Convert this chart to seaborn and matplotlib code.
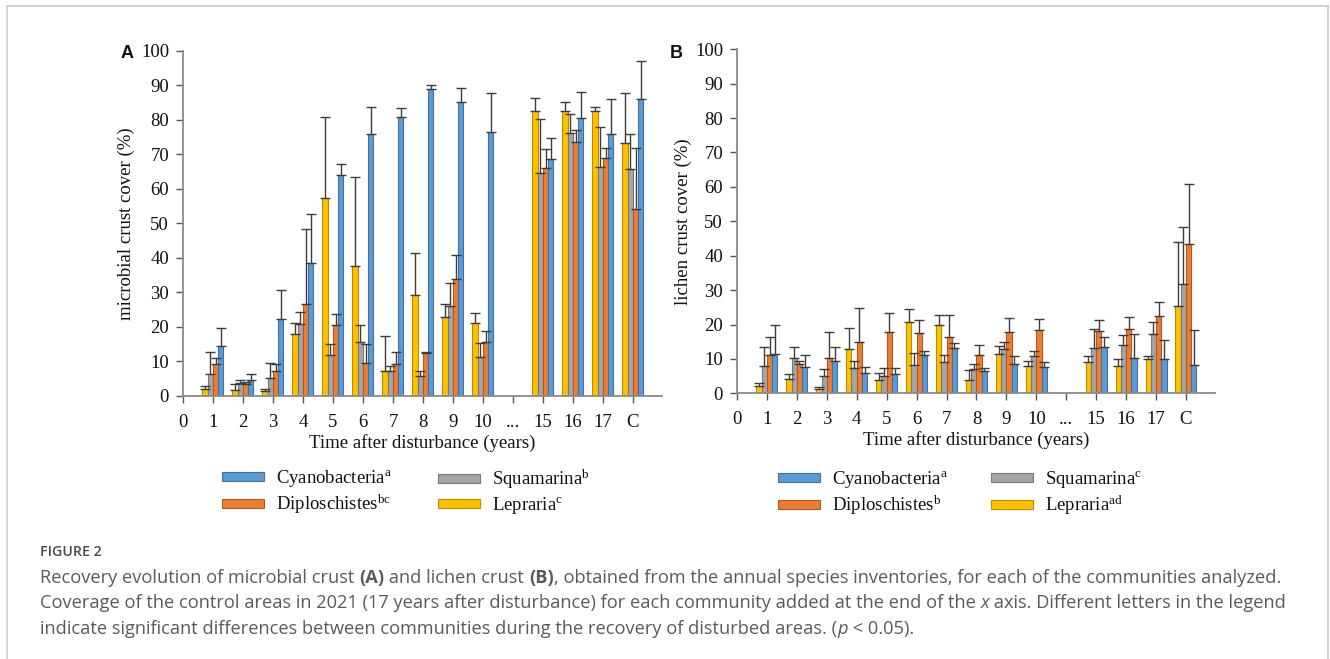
import numpy as np
import pandas as pd
import matplotlib
matplotlib.use("Agg")
import matplotlib.pyplot as plt
from matplotlib.patches import Patch
from matplotlib.lines import Line2D
import seaborn as sns

# ---------------- data ----------------
tick_labels = ["0", "1", "2", "3", "4", "5", "6", "7", "8", "9", "10", "...", "15", "16", "17", "C"]
years = ["1", "2", "3", "4", "5", "6", "7", "8", "9", "10", "15", "16", "17", "C"]
taxa = ["Lepraria", "Squamarina", "Diploschistes", "Cyanobacteria"]

# Panel A: microbial crust cover (%) and upper error
a_lep = [2.0, 1.7, 1.5, 18.1, 57.2, 37.7, 7.3, 29.2, 23.0, 21.0, 82.6, 82.4, 82.4, 73.2]
a_lep_err = [1.0, 1.7, 0.6, 3.1, 23.5, 25.8, 10.2, 12.3, 3.7, 3.1, 3.7, 2.8, 1.4, 14.6]
a_squ = [6.5, 3.9, 5.3, 20.8, 11.8, 15.5, 7.3, 5.8, 26.2, 11.4, 64.5, 76.1, 66.3, 65.6]
a_squ_err = [6.2, 0.7, 4.3, 3.6, 3.4, 5.1, 1.5, 1.3, 6.4, 4.0, 15.8, 5.6, 11.7, 10.2]
a_dip = [9.2, 3.5, 7.1, 26.5, 20.5, 9.7, 9.3, 12.4, 33.8, 15.6, 66.1, 73.5, 68.8, 54.3]
a_dip_err = [1.8, 0.6, 2.1, 21.8, 3.3, 5.5, 3.4, 0.3, 7.0, 3.1, 5.3, 3.5, 2.9, 17.4]
a_cya = [14.5, 4.6, 22.2, 38.6, 63.9, 75.8, 80.9, 89.0, 85.2, 76.4, 68.5, 80.4, 75.8, 85.9]
a_cya_err = [5.3, 1.8, 8.5, 14.1, 3.4, 8.0, 2.5, 1.0, 4.1, 11.4, 6.3, 7.6, 10.1, 11.0]

# Panel B: lichen crust cover (%) and upper error
b_lep = [2.1, 4.3, 1.3, 12.8, 3.8, 20.7, 19.9, 3.9, 11.4, 7.9, 9.1, 7.9, 9.9, 25.4]
b_lep_err = [0.8, 1.3, 0.4, 6.3, 2.0, 3.7, 2.8, 2.9, 2.4, 1.6, 1.8, 2.2, 1.0, 18.5]
b_squ = [7.9, 10.2, 5.0, 7.4, 5.0, 8.2, 9.1, 7.0, 12.8, 10.9, 13.1, 14.1, 17.2, 31.8]
b_squ_err = [5.5, 3.2, 2.0, 1.9, 2.4, 3.4, 2.0, 1.4, 2.2, 1.3, 5.5, 2.8, 3.6, 16.6]
b_dip = [11.2, 8.4, 10.2, 14.8, 17.9, 17.6, 16.4, 11.1, 17.7, 18.3, 18.2, 18.8, 22.5, 43.4]
b_dip_err = [5.3, 1.1, 7.7, 10.0, 5.5, 3.7, 6.5, 2.9, 4.1, 3.2, 3.1, 3.5, 4.0, 17.5]
b_cya = [11.4, 7.6, 9.4, 5.8, 5.5, 11.0, 13.2, 6.5, 8.5, 7.7, 13.4, 10.3, 9.9, 8.2]
b_cya_err = [8.6, 3.4, 4.2, 1.8, 1.9, 1.4, 1.5, 0.8, 2.4, 1.4, 2.9, 6.9, 5.6, 10.3]

legend_a = {"Cyanobacteria": "a", "Squamarina": "b", "Diploschistes": "bc", "Lepraria": "c"}
legend_b = {"Cyanobacteria": "a", "Squamarina": "c", "Diploschistes": "b", "Lepraria": "ad"}

# ---------------- style ----------------
sns.set_theme(style="white")
plt.rcParams["font.family"] = ["Liberation Serif", "DejaVu Serif"]
plt.rcParams["mathtext.fontset"] = "custom"
plt.rcParams["mathtext.rm"] = "Liberation Serif"
plt.rcParams["mathtext.it"] = "Liberation Serif:italic"

palette = {"Cyanobacteria": "#5B9BD5", "Diploschistes": "#ED7D31",
           "Squamarina": "#A5A5A5", "Lepraria": "#FFC000"}
edges = {"Cyanobacteria": "#41719C", "Diploschistes": "#AE5A21",
         "Squamarina": "#787878", "Lepraria": "#BC8C00"}
axis_col = "#8a8a8a"
fs = 13.5

W, H = 1330, 659
fig = plt.figure(figsize=(W / 100, H / 100), dpi=100)


def fx(px):
    return px / W


def fy(py):
    return 1 - py / H


def panel(rect, vals, errs, ylabel, letter, letter_xy, ylab_x, xlab_y):
    ax = fig.add_axes(rect)
    rows = []
    for t in taxa:
        for y, v in zip(years, vals[t]):
            rows.append({"year": y, "cover": v, "taxon": t})
    df = pd.DataFrame(rows)
    sns.barplot(data=df, x="year", y="cover", hue="taxon", order=tick_labels,
                hue_order=taxa, palette=palette, width=0.7, errorbar=None,
                saturation=1, legend=False, ax=ax, zorder=2)
    for t, cont in zip(taxa, ax.containers):
        for bar in cont:
            h = bar.get_height()
            if not np.isfinite(h):
                continue
            bar.set_edgecolor(edges[t])
            bar.set_linewidth(0.8)
            xc = bar.get_x() + bar.get_width() / 2
            lab = tick_labels[int(round(xc))]
            e = errs[t][years.index(lab)]
            ax.errorbar(xc, h, yerr=[[0], [e]], fmt="none", ecolor="#3c3c3c",
                        elinewidth=1.0, capsize=3.6, capthick=1.0, zorder=3)
    ax.set_xlim(0, 15.97)
    ax.set_ylim(0, 100)
    ax.set_yticks(np.arange(0, 101, 10))
    ax.set_xticks(range(len(tick_labels)))
    ax.set_xticklabels(tick_labels)
    for s in ["top", "right"]:
        ax.spines[s].set_visible(False)
    for s in ["left", "bottom"]:
        ax.spines[s].set_color(axis_col)
        ax.spines[s].set_linewidth(1.3)
    ax.tick_params(axis="both", which="both", direction="out", length=5, width=1,
                   color="#555555", labelsize=fs, labelcolor="#111111", bottom=True, left=True)
    ax.tick_params(axis="x", pad=8)
    ax.tick_params(axis="y", pad=5)
    ax.set_ylabel(ylabel, fontsize=fs, color="#111111")
    ax.yaxis.set_label_coords(ylab_x, 0.5)
    ax.set_xlabel("Time after disturbance (years)", fontsize=fs, color="#111111")
    ax.xaxis.set_label_coords(0.5, xlab_y)
    ax.grid(False)
    fig.text(fx(letter_xy[0]), fy(letter_xy[1]), letter, family="Liberation Sans",
             fontweight="bold", fontsize=13, ha="center", va="center", color="#111111")
    return ax


vals_a = {"Lepraria": a_lep, "Squamarina": a_squ, "Diploschistes": a_dip, "Cyanobacteria": a_cya}
errs_a = {"Lepraria": a_lep_err, "Squamarina": a_squ_err, "Diploschistes": a_dip_err, "Cyanobacteria": a_cya_err}
vals_b = {"Lepraria": b_lep, "Squamarina": b_squ, "Diploschistes": b_dip, "Cyanobacteria": b_cya}
errs_b = {"Lepraria": b_lep_err, "Squamarina": b_squ_err, "Diploschistes": b_dip_err, "Cyanobacteria": b_cya_err}

axA = panel([fx(183), fy(396), fx(662) - fx(183), fy(50.7) - fy(396)], vals_a, errs_a,
            "microbial crust cover (%)", "A", (127, 54), -0.100, -0.109)
axB = panel([fx(737), fy(393.3), fx(1215) - fx(737), fy(49.3) - fy(393.3)], vals_b, errs_b,
            "lichen crust cover (%)", "B", (676, 53), -0.094, -0.110)


def legend_col(names, sup, x_px, y_px):
    handles = [Patch(facecolor=palette[n], edgecolor=edges[n], linewidth=0.8) for n in names]
    labels = [n + r"$^{\mathrm{" + sup[n] + "}}$" for n in names]
    leg = fig.legend(handles, labels, loc="upper left", bbox_to_anchor=(fx(x_px), fy(y_px)),
                     frameon=False, fontsize=fs, borderpad=0, borderaxespad=0,
                     handlelength=2.25, handleheight=0.4, handletextpad=0.62,
                     labelspacing=0.2, labelcolor="#111111")
    return leg


legend_col(["Cyanobacteria", "Diploschistes"], legend_a, 222, 468)
legend_col(["Squamarina", "Lepraria"], legend_a, 438, 468)
legend_col(["Cyanobacteria", "Diploschistes"], legend_b, 778, 469)
legend_col(["Squamarina", "Lepraria"], legend_b, 991, 469)

# ---------------- caption ----------------
cap_col = "#5a5a5a"
cap_font = "Open Sans"
cap_fs = 13.15
fig.text(fx(40), fy(552), "FIGURE 2", family=cap_font, fontweight="semibold",
         fontsize=10.2, color="#4a4a4a", va="center", ha="left")

renderer = fig.canvas.get_renderer()


def rich_line(segments, x_px, y_px):
    x = fx(x_px)
    for txt, style in segments:
        kw = dict(family=cap_font, fontsize=cap_fs, color=cap_col, va="center", ha="left")
        if style == "b":
            kw["fontweight"] = "bold"
        elif style == "i":
            kw["fontstyle"] = "italic"
        t = fig.text(x, fy(y_px), txt, **kw)
        bb = t.get_window_extent(renderer=renderer)
        x += bb.width / W


rich_line([("Recovery evolution of microbial crust ", ""), ("(A)", "b"), (" and lichen crust ", ""),
           ("(B)", "b"), (", obtained from the annual species inventories, for each of the communities analyzed.", "")],
          40, 578)
rich_line([("Coverage of the control areas in 2021 (17 years after disturbance) for each community added at the end of the ", ""),
           ("x", "i"), (" axis. Different letters in the legend", "")], 40, 603.5)
rich_line([("indicate significant differences between communities during the recovery of disturbed areas. (", ""),
           ("p", "i"), (" < 0.05).", "")], 40, 629)

# card border
bc = "#cccccc"
fig.add_artist(Line2D([fx(6.5), fx(6.5)], [fy(5.5), 0], color=bc, lw=1.2))
fig.add_artist(Line2D([fx(6.5), fx(1328)], [fy(5.5), fy(5.5)], color=bc, lw=1.2))
fig.add_artist(Line2D([fx(1328), fx(1328)], [fy(5.5), 0], color=bc, lw=1.2))

fig.savefig("out.png", dpi=100, facecolor="white")
